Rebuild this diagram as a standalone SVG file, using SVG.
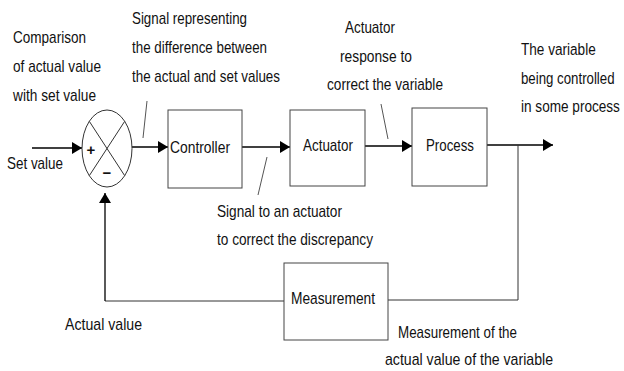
<svg xmlns="http://www.w3.org/2000/svg" width="624" height="371" viewBox="0 0 624 371">
  <defs>
    <marker id="arrow" markerWidth="10" markerHeight="12" refX="10" refY="6" orient="auto" markerUnits="userSpaceOnUse">
      <path d="M0,0 L10,6 L0,12 Z" fill="#000"/>
    </marker>
    <style>
      text { font-family: "Liberation Sans", Arial, sans-serif; font-size: 17px; fill: #111; }
      .box { fill: #fff; stroke: #444; stroke-width: 1; }
      .wire { fill: none; stroke: #000; stroke-width: 1.3; }
      .fb { fill: none; stroke: #333; stroke-width: 1; }
      .leader { fill: none; stroke: #555; stroke-width: 1; }
      .sign { font-size: 15px; font-weight: bold; text-anchor: middle; }
    </style>
  </defs>
  <rect width="624" height="371" fill="#fff"/>

  <!-- connectors -->
  <g id="connectors">
    <line class="wire" x1="32" y1="148" x2="82" y2="148" marker-end="url(#arrow)"/>
    <line class="wire" x1="132" y1="147" x2="168" y2="147" marker-end="url(#arrow)"/>
    <line class="wire" x1="242" y1="147" x2="290" y2="147" marker-end="url(#arrow)"/>
    <line class="wire" x1="365" y1="146" x2="412" y2="146" marker-end="url(#arrow)"/>
    <line class="wire" x1="487" y1="145" x2="553" y2="145" marker-end="url(#arrow)"/>
    <polyline class="fb" points="518,145 518,300 388,300"/>
    <polyline class="fb" points="284,301 105,301"/>
    <line class="wire" x1="105" y1="301" x2="105" y2="193" marker-end="url(#arrow)"/>
    <!-- label leaders -->
    <line class="leader" x1="143" y1="138" x2="147" y2="101"/>
    <line class="leader" x1="267" y1="157" x2="258" y2="195"/>
    <line class="leader" x1="381" y1="104" x2="388" y2="139"/>
  </g>

  <!-- summing junction -->
  <g id="comparator">
    <ellipse cx="107" cy="148.5" rx="25" ry="38.5" fill="#fff" stroke="#333" stroke-width="1"/>
    <line x1="89.3" y1="121.3" x2="124.7" y2="175.7" stroke="#333" stroke-width="1"/>
    <line x1="124.7" y1="121.3" x2="89.3" y2="175.7" stroke="#333" stroke-width="1"/>
    <text class="sign" x="91" y="155">+</text>
    <text class="sign" x="107" y="178">−</text>
  </g>

  <g id="controller">
    <rect class="box" x="168" y="110" width="74" height="78"/>
    <text x="170" y="153" textLength="60" lengthAdjust="spacingAndGlyphs">Controller</text>
  </g>

  <g id="actuator">
    <rect class="box" x="290" y="110" width="75" height="76"/>
    <text x="303" y="151" textLength="50" lengthAdjust="spacingAndGlyphs">Actuator</text>
  </g>

  <g id="process">
    <rect class="box" x="412" y="108" width="75" height="78"/>
    <text x="426" y="151" textLength="48" lengthAdjust="spacingAndGlyphs">Process</text>
  </g>

  <g id="measurement">
    <rect class="box" x="284" y="263" width="104" height="77"/>
    <text x="291" y="304" textLength="84" lengthAdjust="spacingAndGlyphs">Measurement</text>
  </g>

  <!-- annotations -->
  <g id="labels">
    <text x="13" y="43" textLength="73" lengthAdjust="spacingAndGlyphs">Comparison</text>
    <text x="13" y="72" textLength="88" lengthAdjust="spacingAndGlyphs">of actual value</text>
    <text x="13" y="101" textLength="83" lengthAdjust="spacingAndGlyphs">with set value</text>

    <text x="132" y="24" textLength="115" lengthAdjust="spacingAndGlyphs">Signal representing</text>
    <text x="132" y="53" textLength="135" lengthAdjust="spacingAndGlyphs">the difference between</text>
    <text x="132" y="82" textLength="148" lengthAdjust="spacingAndGlyphs">the actual and set values</text>

    <text x="345" y="33" textLength="50" lengthAdjust="spacingAndGlyphs">Actuator</text>
    <text x="340" y="62" textLength="72" lengthAdjust="spacingAndGlyphs">response to</text>
    <text x="327" y="90" textLength="116" lengthAdjust="spacingAndGlyphs">correct the variable</text>

    <!-- right-hand column: condensed by scaling so it stays inside the page -->
    <text transform="translate(521,55) scale(0.8,1)">The variable</text>
    <text transform="translate(521,84) scale(0.78,1)">being controlled</text>
    <text transform="translate(521,112) scale(0.8,1)">in some process</text>

    <text x="7" y="169" textLength="56" lengthAdjust="spacingAndGlyphs">Set value</text>

    <text x="217" y="217" textLength="125" lengthAdjust="spacingAndGlyphs">Signal to an actuator</text>
    <text x="217" y="245" textLength="156" lengthAdjust="spacingAndGlyphs">to correct the discrepancy</text>

    <text x="65" y="330" textLength="77" lengthAdjust="spacingAndGlyphs">Actual value</text>

    <text x="398" y="338" textLength="119" lengthAdjust="spacingAndGlyphs">Measurement of the</text>
    <text x="385" y="365" textLength="168" lengthAdjust="spacingAndGlyphs">actual value of the variable</text>
  </g>
</svg>
